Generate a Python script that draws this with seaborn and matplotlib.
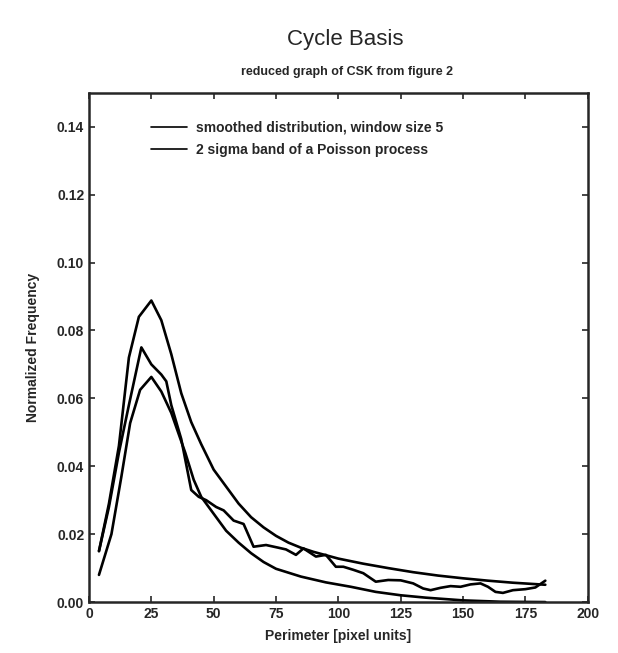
import matplotlib
matplotlib.use("Agg")
import matplotlib.pyplot as plt
import numpy as np
import pandas as pd
import seaborn as sns

# smoothed distribution (window size 5)
smooth_x = [4, 8, 12, 16, 21, 25, 29, 31, 33, 37, 41, 44, 47, 51, 54, 58, 62, 66, 71, 76,
            79, 83, 86, 91, 95, 99, 102, 106, 110, 115, 120, 125, 130, 134, 137, 141, 145,
            149, 153, 157, 160, 163, 166, 170, 175, 179, 183]
smooth_y = [0.015, 0.028, 0.044, 0.058, 0.075, 0.070, 0.067, 0.065, 0.058, 0.048, 0.033,
            0.031, 0.030, 0.028, 0.027, 0.024, 0.023, 0.0163, 0.0168, 0.016, 0.0155, 0.0139,
            0.0158, 0.0134, 0.0139, 0.0104, 0.0104, 0.0095, 0.0085, 0.006, 0.0065, 0.0064,
            0.0055, 0.004, 0.0035, 0.0042, 0.0047, 0.0045, 0.0052, 0.0055, 0.0045, 0.003,
            0.0027, 0.0035, 0.0038, 0.0043, 0.0063]

# 2 sigma band, upper edge
upper_x = [4, 8, 12, 16, 20, 25, 29, 33, 37, 41, 45, 50, 55, 60, 65, 70, 75, 80, 85, 90,
           100, 110, 120, 130, 140, 150, 160, 170, 183]
upper_y = [0.015, 0.029, 0.046, 0.072, 0.084, 0.0888, 0.083, 0.073, 0.0615, 0.053, 0.0465,
           0.039, 0.034, 0.029, 0.025, 0.022, 0.0195, 0.0175, 0.016, 0.0148, 0.0128, 0.0113,
           0.010, 0.0088, 0.0078, 0.007, 0.0063, 0.0057, 0.0051]

# 2 sigma band, lower edge
lower_x = [4, 9, 13, 16.5, 20.5, 25, 29, 33, 38.6, 42, 45, 50, 55, 60, 65, 70, 75, 85, 95,
           105, 115, 125, 135, 150, 165, 183]
lower_y = [0.008, 0.020, 0.037, 0.0527, 0.0625, 0.0663, 0.062, 0.0557, 0.044, 0.036, 0.031,
           0.026, 0.021, 0.0175, 0.0144, 0.0118, 0.0098, 0.0075, 0.0058, 0.0045, 0.003,
           0.002, 0.0013, 0.0005, 0.0001, 0.0]

sns.set_style("ticks")
plt.rcParams['font.family'] = ['Liberation Sans', 'DejaVu Sans']

fig = plt.figure(figsize=(6.18, 6.53), dpi=100)
ax = fig.add_axes([0.144, 0.078, 0.807, 0.780])

sns.lineplot(x=smooth_x, y=smooth_y, color='black', lw=1.9, ax=ax,
             label='smoothed distribution, window size 5')
sns.lineplot(x=upper_x, y=upper_y, color='black', lw=1.9, ax=ax,
             label='2 sigma band of a Poisson process')
sns.lineplot(x=lower_x, y=lower_y, color='black', lw=1.9, ax=ax, label='_nolegend_')

ax.set_xlim(0, 200)
ax.set_ylim(0, 0.15)
ax.set_xticks(np.arange(0, 201, 25))
ax.set_yticks(np.arange(0, 0.141, 0.02))
ax.set_yticklabels([f'{v:.2f}' for v in np.arange(0, 0.141, 0.02)])
ax.tick_params(direction='in', length=4, width=1.2, top=True, right=True,
               labelsize=10)
for lab in ax.get_xticklabels() + ax.get_yticklabels():
    lab.set_fontweight('bold')
for s in ax.spines.values():
    s.set_linewidth(1.8)

ax.set_xlabel('Perimeter [pixel units]', fontsize=10, fontweight='bold', labelpad=6)
ax.set_ylabel('Normalized Frequency', fontsize=10, fontweight='bold', labelpad=12)

leg = ax.legend(loc='upper left', bbox_to_anchor=(0.1, 0.97), frameon=False,
                handlelength=2.6, fontsize=10, labelspacing=0.6, handletextpad=0.6)
for t in leg.get_texts():
    t.set_fontweight('bold')
for h in leg.get_lines():
    h.set_linewidth(1.2)

fig.text(0.558, 0.940, 'Cycle Basis', ha='center', va='center', fontsize=16)
fig.text(0.562, 0.890, 'reduced graph of CSK from figure 2', ha='center', va='center',
         fontsize=9, fontweight='bold')

fig.savefig('out.png', dpi=100)
